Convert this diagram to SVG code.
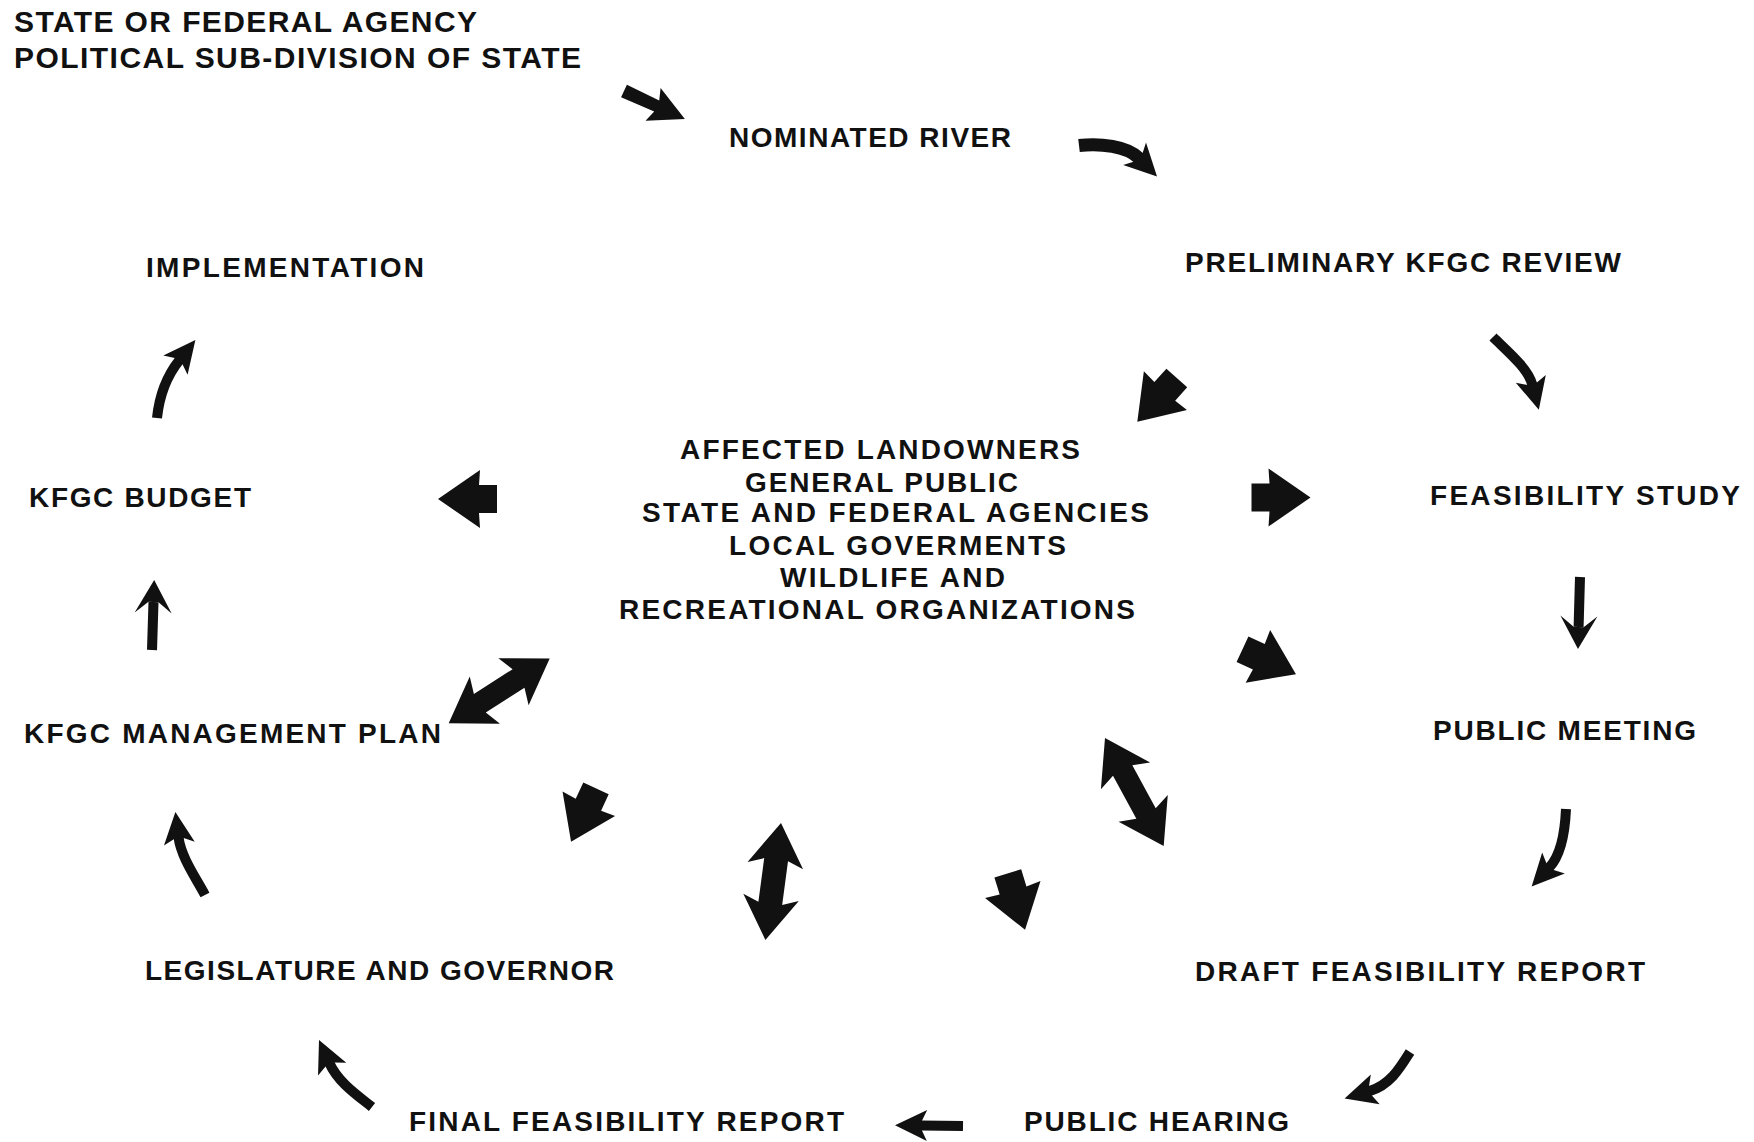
<svg xmlns="http://www.w3.org/2000/svg" width="1754" height="1142" viewBox="0 0 1754 1142">
<style>
  text { font-family: "Liberation Sans", Arial, Helvetica, sans-serif; font-weight: bold; fill: #111; }
  .lbl { font-size: 28px; }
  .top { font-size: 30px; }
  .ctr { font-size: 28px; }
  .shaft { fill: none; stroke: #111; stroke-width: 10; stroke-linecap: butt; }
  .thick { stroke-width: 13; }
  .blk { fill: #111; }
</style>
<defs>
  <marker id="hd" markerUnits="userSpaceOnUse" markerWidth="80" markerHeight="80" refX="0" refY="0" orient="auto" style="overflow:visible">
    <path d="M-1,-5 L-6,-15.5 L26,0 L-6,15.5 L-1,5 Z" fill="#111"/>
  </marker>
  <marker id="hb" markerUnits="userSpaceOnUse" markerWidth="80" markerHeight="80" refX="0" refY="0" orient="auto" style="overflow:visible">
    <path d="M-1,-6.5 L-6,-16 L26,0 L-6,16 L-1,6.5 Z" fill="#111"/>
  </marker>
  <marker id="hs" markerUnits="userSpaceOnUse" markerWidth="80" markerHeight="80" refX="0" refY="0" orient="auto" style="overflow:visible">
    <path d="M0,-5 L-11,-18.5 L22,0 L-11,18.5 L0,5 Z" fill="#111"/>
  </marker>
  <path id="fat" d="M0,-14 L18,-14 L17,-29 L59,0 L17,29 L18,14 L0,14 Z" fill="#111"/>
</defs>
<rect width="1754" height="1142" fill="#fff"/>

<g id="n-nominator">
  <text class="top" x="14" y="32" textLength="463" lengthAdjust="spacing">STATE OR FEDERAL AGENCY</text>
  <text class="top" x="14" y="68" textLength="567" lengthAdjust="spacing">POLITICAL SUB-DIVISION OF STATE</text>
</g>
<g id="n-nominated-river">
  <text class="lbl" x="729" y="147" textLength="282" lengthAdjust="spacing">NOMINATED RIVER</text>
</g>
<g id="n-preliminary-review">
  <text class="lbl" x="1185" y="272" textLength="436" lengthAdjust="spacing">PRELIMINARY KFGC REVIEW</text>
</g>
<g id="n-feasibility-study">
  <text class="lbl" x="1430" y="505" textLength="310" lengthAdjust="spacing">FEASIBILITY STUDY</text>
</g>
<g id="n-public-meeting">
  <text class="lbl" x="1433" y="740" textLength="263" lengthAdjust="spacing">PUBLIC MEETING</text>
</g>
<g id="n-draft-report">
  <text class="lbl" x="1195" y="981" textLength="450" lengthAdjust="spacing">DRAFT FEASIBILITY REPORT</text>
</g>
<g id="n-public-hearing">
  <text class="lbl" x="1024" y="1131" textLength="265" lengthAdjust="spacing">PUBLIC HEARING</text>
</g>
<g id="n-final-report">
  <text class="lbl" x="409" y="1131" textLength="435" lengthAdjust="spacing">FINAL FEASIBILITY REPORT</text>
</g>
<g id="n-legislature">
  <text class="lbl" x="145" y="980" textLength="469" lengthAdjust="spacing">LEGISLATURE AND GOVERNOR</text>
</g>
<g id="n-management-plan">
  <text class="lbl" x="24" y="743" textLength="417" lengthAdjust="spacing">KFGC MANAGEMENT PLAN</text>
</g>
<g id="n-budget">
  <text class="lbl" x="29" y="507" textLength="222" lengthAdjust="spacing">KFGC BUDGET</text>
</g>
<g id="n-implementation">
  <text class="lbl" x="146" y="277" textLength="278" lengthAdjust="spacing">IMPLEMENTATION</text>
</g>
<g id="n-stakeholders">
  <text class="ctr" x="680" y="459" textLength="400" lengthAdjust="spacing">AFFECTED LANDOWNERS</text>
  <text class="ctr" x="745" y="492" textLength="273" lengthAdjust="spacing">GENERAL PUBLIC</text>
  <text class="ctr" x="642" y="522" textLength="507" lengthAdjust="spacing">STATE AND FEDERAL AGENCIES</text>
  <text class="ctr" x="729" y="555" textLength="337" lengthAdjust="spacing">LOCAL GOVERMENTS</text>
  <text class="ctr" x="780" y="587" textLength="225" lengthAdjust="spacing">WILDLIFE AND</text>
  <text class="ctr" x="619" y="619" textLength="516" lengthAdjust="spacing">RECREATIONAL ORGANIZATIONS</text>
</g>

<g id="connectors">
  <path class="blk" d="M0,-7 L36,-6 L32,-18 L67,0 L32,18 L36,6 L0,7 Z" transform="translate(624,91) rotate(24.7)"/>
  <path class="shaft thick" d="M1079,145.5 C1100,143 1127,146 1138.8,158" marker-end="url(#hb)"/>
  <path class="shaft" d="M1493,337 C1506,350 1528,368 1532.3,384.6" marker-end="url(#hd)"/>
  <use href="#fat" transform="translate(1176.8,378) rotate(132)"/>
  <use href="#fat" transform="translate(1251.5,497.5)"/>
  <use href="#fat" transform="translate(497,499) rotate(180)"/>
  <path class="shaft" d="M1580,577 L1578.6,627" marker-end="url(#hs)"/>
  <use href="#fat" transform="translate(1242.5,649.2) rotate(25)"/>
  <path class="shaft" d="M1566,809 C1565,832 1561,855 1549.4,867.4" marker-end="url(#hd)"/>
  <path class="blk" d="M0,0 L43,-28 L37,-11 L86,-11 L80,-28 L123,0 L80,28 L86,11 L37,11 L43,28 Z" transform="translate(1105,738) rotate(61.5)"/>
  <use href="#fat" transform="translate(1007.8,873.3) rotate(73)"/>
  <path class="blk" d="M0,0 L43,-28 L37,-12 L81,-12 L75,-28 L118,0 L75,28 L81,12 L37,12 L43,28 Z" transform="translate(781,823) rotate(97.6)"/>
  <use href="#fat" transform="translate(596,788.4) rotate(115)"/>
  <path class="blk" d="M0,0 L43,-28 L37,-11 L83,-11 L77,-28 L120,0 L77,28 L83,11 L37,11 L43,28 Z" transform="translate(448.7,723.3) rotate(-32.7)"/>
  <path class="shaft" d="M152,650 L153.5,602" marker-end="url(#hs)"/>
  <path class="shaft" d="M157,418 C159,399 166,377 179.2,360.4" marker-end="url(#hd)"/>
  <path class="shaft" d="M205,895 C196,878 181,857 178.6,837.7" marker-end="url(#hd)"/>
  <path class="shaft" d="M372,1107 C357,1095 338,1082 329.7,1063.6" marker-end="url(#hd)"/>
  <path class="shaft" d="M963,1126 L921,1125.5" marker-end="url(#hd)"/>
  <path class="shaft" d="M1410,1052 C1400,1068 1390,1085 1369.5,1091.1" marker-end="url(#hd)"/>
</g>
</svg>
